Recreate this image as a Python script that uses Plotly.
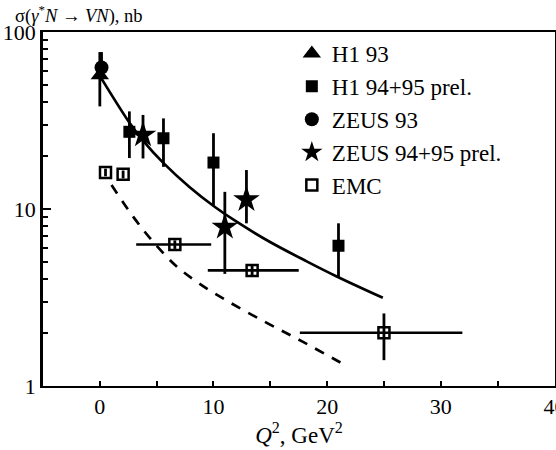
import plotly.graph_objects as go

# ---------------- data ----------------
h1_93_q2 = [0.0]
h1_93_sig = [57.0]
h1_93_up = [20.0]
h1_93_dn = [19.0]

h1_9495_q2 = [2.6, 5.6, 10.0, 21.0]
h1_9495_sig = [27.3, 25.1, 18.3, 6.2]
h1_9495_up = [8.3, 7.4, 8.5, 2.1]
h1_9495_dn = [7.9, 7.8, 7.8, 2.1]

zeus_93_q2 = [0.15]
zeus_93_sig = [63.0]
zeus_93_up = [14.0]
zeus_93_dn = [10.0]

zeus_9495_q2 = [3.8, 11.0, 12.9]
zeus_9495_sig = [26.2, 7.9, 11.3]
zeus_9495_up = [7.8, 4.6, 5.3]
zeus_9495_dn = [6.9, 3.6, 3.0]

emc_q2 = [0.5, 2.05, 6.6, 13.4, 25.0]
emc_sig = [16.1, 15.7, 6.3, 4.5, 2.0]
emc_up = [0.8, 0.8, 0.35, 0.3, 0.57]
emc_dn = [0.8, 0.8, 0.35, 0.3, 0.6]
emc_xp = [0.0, 0.0, 3.2, 4.1, 6.9]
emc_xm = [0.0, 0.0, 3.4, 3.9, 7.4]

solid_q2 = [0.0, 2.64, 3.80, 5.56, 7.91, 10.1, 12.0, 14.9, 18.2, 20.8, 24.9]
solid_sig = [56.5, 30.5, 24.35, 18.29, 13.28, 10.30, 8.50, 6.55, 5.06, 4.17, 3.15]

dash_q2 = [1.03, 2.93, 4.68, 6.74, 8.79, 11.42, 14.65, 17.84, 21.79]
dash_sig = [13.66, 9.05, 6.54, 4.75, 3.78, 2.97, 2.28, 1.78, 1.29]

x_ticks = [0, 10, 20, 30, 40]
x_minor = [5, 15, 25, 35]
y_ticks = [1, 10, 100]
y_tick_text = ["1", "10", "100"]
y_minor = [2, 3, 4, 5, 6, 7, 8, 9, 20, 30, 40, 50, 60, 70, 80, 90]

FONT = "Liberation Serif, Times New Roman, serif"
BLK = "black"

fig = go.Figure()

# theory curves
fig.add_trace(go.Scatter(x=solid_q2, y=solid_sig, mode="lines", showlegend=False,
                         line=dict(color=BLK, width=2.7, shape="spline", smoothing=1.0),
                         hoverinfo="skip"))
fig.add_trace(go.Scatter(x=dash_q2, y=dash_sig, mode="lines", showlegend=False,
                         line=dict(color=BLK, width=2.7, dash="10px,9px", shape="spline",
                                   smoothing=1.0),
                         hoverinfo="skip"))


def err(up, dn):
    return dict(type="data", array=up, arrayminus=dn, symmetric=False,
                color=BLK, thickness=2.8, width=0)


fig.add_trace(go.Scatter(x=h1_93_q2, y=h1_93_sig, mode="markers", name="H1 93",
                         marker=dict(symbol="triangle-up", size=16, color=BLK),
                         error_y=err(h1_93_up, h1_93_dn)))
fig.add_trace(go.Scatter(x=h1_9495_q2, y=h1_9495_sig, mode="markers", name="H1 94+95 prel.",
                         marker=dict(symbol="square", size=12, color=BLK),
                         error_y=err(h1_9495_up, h1_9495_dn)))
fig.add_trace(go.Scatter(x=zeus_93_q2, y=zeus_93_sig, mode="markers", name="ZEUS 93",
                         marker=dict(symbol="circle", size=14, color=BLK),
                         error_y=err(zeus_93_up, zeus_93_dn)))
fig.add_trace(go.Scatter(x=zeus_9495_q2, y=zeus_9495_sig, mode="markers", name="ZEUS 94+95 prel.",
                         marker=dict(symbol="star", size=20, color=BLK),
                         error_y=err(zeus_9495_up, zeus_9495_dn)))
fig.add_trace(go.Scatter(x=emc_q2, y=emc_sig, mode="markers", name="EMC",
                         marker=dict(symbol="square-open", size=11, color=BLK,
                                     line=dict(width=2.5, color=BLK)),
                         error_y=err(emc_up, emc_dn),
                         error_x=dict(type="data", array=emc_xp, arrayminus=emc_xm,
                                      symmetric=False, color=BLK, thickness=2.6, width=0)))

fig.update_layout(
    width=556, height=450,
    margin=dict(l=43, r=1, t=32, b=64, autoexpand=False),
    paper_bgcolor="white", plot_bgcolor="white",
    font=dict(family=FONT, size=22, color=BLK),
    legend=dict(x=0.486, y=1.0, xanchor="left", yanchor="top",
                bgcolor="rgba(0,0,0,0)", borderwidth=0,
                font=dict(family=FONT, size=23, color=BLK),
                tracegroupgap=0, itemsizing="trace"),
    xaxis=dict(range=[-5, 40.05], tickvals=x_ticks, ticks="inside", ticklen=5,
               tickwidth=2, tickcolor=BLK, showgrid=False, zeroline=False,
               showline=True, linewidth=2, linecolor=BLK, mirror=True,
               ticklabeloverflow="allow", automargin=False,
               minor=dict(tickvals=x_minor, ticks="inside", ticklen=5,
                          tickwidth=2, tickcolor=BLK, showgrid=False),
               tickfont=dict(family=FONT, size=22),
               title=dict(text="<i>Q</i><sup>2</sup>, GeV<sup>2</sup>",
                          font=dict(family=FONT, size=23), standoff=2)),
    yaxis=dict(type="log", range=[0, 2], tickvals=y_ticks, ticktext=y_tick_text,
               ticks="inside", ticklen=8, tickwidth=2, tickcolor=BLK,
               showgrid=False, zeroline=False, showline=True, linewidth=2.5,
               linecolor=BLK, mirror=True, ticklabelstandoff=0, automargin=False,
               minor=dict(tickvals=y_minor, ticks="inside", ticklen=5, tickwidth=2,
                          tickcolor=BLK, showgrid=False),
               tickfont=dict(family=FONT, size=22)),
    annotations=[dict(text="σ(<i>γ</i><sup>*</sup><i>N</i> → <i>VN</i>), nb",
                      xref="paper", yref="paper", x=-0.0586, y=1.05,
                      xanchor="left", yanchor="middle", showarrow=False,
                      font=dict(family=FONT, size=18.5, color=BLK))],
)

fig.write_html("out.html")
